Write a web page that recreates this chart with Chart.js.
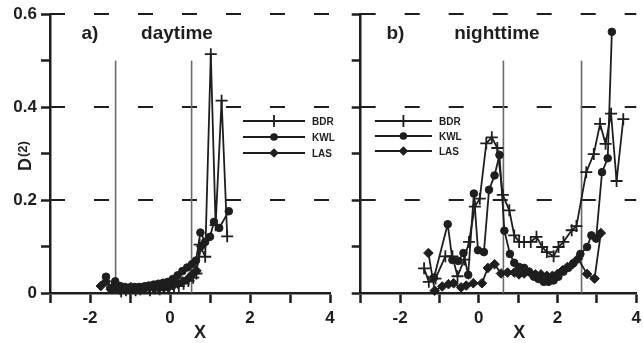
<!DOCTYPE html>
<html>
<head>
<meta charset="utf-8">
<script src="https://cdn.jsdelivr.net/npm/chart.js@4.4.1/dist/chart.umd.min.js"></script>
<style>
  body { margin: 0; background: #fff; width: 643px; height: 343px; position: relative; overflow: hidden; }
  canvas { position: absolute; top: 0; }
  #dayChart { left: 0; }
  #nightChart { left: 335px; }
</style>
</head>
<body>
<canvas id="dayChart" width="340" height="343"></canvas>
<canvas id="nightChart" width="311" height="343"></canvas>
<script>
// a) daytime
const dayBdrX = [-1.45, -1.33, -1.22, -1.1, -0.98, -0.86, -0.74, -0.62, -0.5, -0.38, -0.26, -0.14, -0.02, 0.1, 0.22, 0.34, 0.46, 0.58, 0.66, 0.74, 0.88, 1.02, 1.14, 1.29, 1.43];
const dayBdrY = [0.012, 0.02, 0.003, 0.006, 0.01, 0.006, 0.008, 0.01, 0.006, 0.01, 0.008, 0.012, 0.01, 0.015, 0.015, 0.02, 0.026, 0.033, 0.042, 0.104, 0.078, 0.514, 0.146, 0.414, 0.122];
const dayKwlX = [-1.6, -1.48, -1.37, -1.25, -1.13, -1.01, -0.89, -0.77, -0.65, -0.53, -0.41, -0.29, -0.17, -0.05, 0.07, 0.19, 0.31, 0.43, 0.55, 0.65, 0.76, 0.88, 1.0, 1.1, 1.23, 1.47];
const dayKwlY = [0.035, 0.01, 0.025, 0.015, 0.013, 0.012, 0.013, 0.013, 0.014, 0.016, 0.018, 0.02, 0.022, 0.024, 0.03, 0.038, 0.047, 0.055, 0.062, 0.07, 0.13, 0.11, 0.121, 0.153, 0.14, 0.176];
const dayLasX = [-1.73, -1.6, -1.48, -1.36, -1.24, -1.12, -1.0, -0.88, -0.76, -0.64, -0.52, -0.4, -0.28, -0.16, -0.04, 0.08, 0.2, 0.32, 0.44, 0.55, 0.66, 0.78];
const dayLasY = [0.015, 0.025, 0.008, 0.01, 0.006, 0.008, 0.007, 0.008, 0.01, 0.008, 0.012, 0.01, 0.01, 0.012, 0.012, 0.016, 0.02, 0.025, 0.03, 0.04, 0.048, 0.1];
const dayMarks = [-1.36, 0.54];

// b) nighttime
const nightBdrX = [-1.39, -1.27, -1.1, -0.85, -0.67, -0.54, -0.37, -0.25, -0.1, 0.025, 0.19, 0.33, 0.47, 0.61, 0.775, 0.9, 1.025, 1.15, 1.32, 1.465, 1.61, 1.73, 1.9, 2.025, 2.15, 2.36, 2.48, 2.73, 2.92, 3.08, 3.22, 3.36, 3.5, 3.67];
const nightBdrY = [0.053, 0.024, 0.031, 0.079, 0.079, 0.036, 0.072, 0.11, 0.186, 0.203, 0.322, 0.335, 0.312, 0.211, 0.178, 0.124, 0.11, 0.11, 0.11, 0.121, 0.099, 0.088, 0.079, 0.099, 0.11, 0.135, 0.144, 0.26, 0.299, 0.364, 0.321, 0.386, 0.241, 0.374];
const nightKwlX = [-1.14, -0.79, -0.67, -0.52, -0.39, -0.27, -0.125, -0.02, 0.13, 0.26, 0.4, 0.525, 0.65, 0.79, 0.9, 1.025, 1.15, 1.27, 1.4, 1.52, 1.65, 1.77, 1.9, 2.02, 2.15, 2.27, 2.4, 2.58, 2.75, 2.86, 2.98, 3.13, 3.275, 3.38];
const nightKwlY = [0.033, 0.148, 0.071, 0.069, 0.086, 0.039, 0.214, 0.092, 0.088, 0.222, 0.253, 0.297, 0.134, 0.084, 0.065, 0.056, 0.054, 0.046, 0.035, 0.03, 0.024, 0.024, 0.027, 0.035, 0.046, 0.054, 0.064, 0.084, 0.099, 0.124, 0.117, 0.26, 0.29, 0.562];
const nightLasX = [-1.28, -1.12, -0.93, -0.77, -0.64, -0.45, -0.32, -0.14, 0.08, 0.23, 0.4, 0.565, 0.73, 0.9, 1.02, 1.15, 1.3, 1.44, 1.58, 1.73, 1.87, 2.0, 2.13, 2.25, 2.38, 2.52, 2.75, 2.94, 3.1];
const nightLasY = [0.086, 0.005, 0.014, 0.019, 0.021, 0.012, 0.016, 0.021, 0.021, 0.054, 0.062, 0.042, 0.044, 0.044, 0.04, 0.042, 0.044, 0.04, 0.04, 0.037, 0.037, 0.041, 0.049, 0.056, 0.062, 0.074, 0.041, 0.031, 0.129];
const nightMarks = [0.625, 2.61];

const seriesNames = ['BDR', 'KWL', 'LAS'];
const gridLevels = [0.2, 0.4, 0.6];
const markTop = 0.5;

const ink = '#1e1e1e';
const styles = {
  BDR: { pointStyle: 'cross', radius: 6, borderWidth: 1.8 },
  KWL: { pointStyle: 'circle', radius: 3.8, borderWidth: 1 },
  LAS: { pointStyle: 'rectRot', radius: 4.8, borderWidth: 1 }
};

function pts(xs, ys) {
  return xs.map((x, i) => ({ x, y: ys[i] }));
}

function dataset(name, xs, ys) {
  const s = styles[name];
  return {
    label: name,
    data: pts(xs, ys),
    borderColor: ink,
    backgroundColor: ink,
    borderWidth: 1.8,
    pointStyle: s.pointStyle,
    pointRadius: s.radius,
    pointBorderWidth: s.borderWidth,
    pointBackgroundColor: ink,
    pointBorderColor: ink,
    tension: 0,
    clip: 8
  };
}

function drawMarker(ctx, style, x, y) {
  const s = styles[style];
  ctx.save();
  ctx.fillStyle = ink;
  ctx.strokeStyle = ink;
  ctx.beginPath();
  if (style === 'BDR') {
    ctx.lineWidth = s.borderWidth;
    ctx.moveTo(x - s.radius, y); ctx.lineTo(x + s.radius, y);
    ctx.moveTo(x, y - s.radius); ctx.lineTo(x, y + s.radius);
    ctx.stroke();
  } else if (style === 'KWL') {
    ctx.arc(x, y, s.radius, 0, Math.PI * 2);
    ctx.fill();
  } else {
    ctx.moveTo(x, y - s.radius); ctx.lineTo(x + s.radius, y);
    ctx.lineTo(x, y + s.radius); ctx.lineTo(x - s.radius, y);
    ctx.closePath();
    ctx.fill();
  }
  ctx.restore();
}

const overlay = {
  id: 'overlay',
  beforeDatasetsDraw(chart, args, o) {
    const { ctx, chartArea: a, scales: { x, y } } = chart;
    ctx.save();
    ctx.strokeStyle = ink;
    ctx.lineWidth = 2;
    ctx.setLineDash([15, 29]);
    gridLevels.forEach(v => {
      const py = Math.round(y.getPixelForValue(v));
      ctx.beginPath();
      ctx.moveTo(a.left, py);
      ctx.lineTo(a.right, py);
      ctx.stroke();
    });
    ctx.setLineDash([]);
    ctx.strokeStyle = '#6a6a6a';
    ctx.lineWidth = 1.6;
    o.marks.forEach(v => {
      const px = x.getPixelForValue(v);
      ctx.beginPath();
      ctx.moveTo(px, y.getPixelForValue(0));
      ctx.lineTo(px, y.getPixelForValue(markTop));
      ctx.stroke();
    });
    ctx.restore();
  },
  afterDraw(chart, args, o) {
    const { ctx, scales: { x, y } } = chart;
    ctx.save();
    ctx.fillStyle = ink;
    ctx.textBaseline = 'middle';
    ctx.textAlign = 'center';
    // panel titles
    ctx.font = 'bold 19px "Liberation Sans", Arial, sans-serif';
    ctx.fillText(o.tag, x.getPixelForValue(o.tagX), y.getPixelForValue(0.557));
    ctx.fillText(o.title, x.getPixelForValue(o.titleX), y.getPixelForValue(0.557));
    // x axis title
    ctx.font = 'bold 18px "Liberation Sans", Arial, sans-serif';
    ctx.fillText('X', x.getPixelForValue(o.xLabelAt), chart.height - 10);
    // legend
    ctx.font = 'bold 10px "Liberation Sans", Arial, sans-serif';
    ctx.textAlign = 'left';
    o.legendRows.forEach((py, i) => {
      const name = seriesNames[i];
      const x1 = x.getPixelForValue(o.legendX[0]);
      const x2 = x.getPixelForValue(o.legendX[1]);
      ctx.strokeStyle = ink;
      ctx.lineWidth = 1.8;
      ctx.beginPath();
      ctx.moveTo(x1, py);
      ctx.lineTo(x2, py);
      ctx.stroke();
      drawMarker(ctx, name, (x1 + x2) / 2, py);
      ctx.fillText(name, x2 + 7, py + 1);
    });
    // y axis title D(2)
    if (o.yTitle) {
      ctx.translate(26, 171);
      ctx.rotate(-Math.PI / 2);
      ctx.font = 'bold 18px "Liberation Sans", Arial, sans-serif';
      ctx.fillText('D', 0, 0);
      const w = ctx.measureText('D').width;
      ctx.font = 'bold 13px "Liberation Sans", Arial, sans-serif';
      ctx.fillText('(2)', w + 1, -3);
    }
    ctx.restore();
  }
};

function makePanel(id, sets, o) {
  return new Chart(document.getElementById(id), {
    type: 'line',
    data: { datasets: sets },
    plugins: [overlay],
    options: {
      responsive: false,
      animation: false,
      layout: { padding: { top: 13, right: o.padRight, left: 0, bottom: 0 } },
      plugins: {
        legend: { display: false },
        tooltip: { enabled: false },
        overlay: o
      },
      scales: {
        x: {
          type: 'linear',
          min: -3, max: 4,
          ticks: {
            stepSize: 1,
            color: ink,
            padding: 5,
            font: { family: '"Liberation Sans", Arial, sans-serif', size: 17, weight: 'bold' },
            callback: v => (Math.round(v) % 2 === 0 ? String(v) : '')
          },
          grid: { drawOnChartArea: false, tickLength: 10, tickColor: ink, tickWidth: 2.5 },
          border: { color: ink, width: 2.5 },
          afterFit: s => { s.height = 50; }
        },
        y: {
          min: 0, max: 0.6,
          ticks: {
            stepSize: 0.1,
            color: ink,
            padding: 4,
            font: { family: '"Liberation Sans", Arial, sans-serif', size: 17, weight: 'bold' },
            callback: v => (o.yTitle && Math.round(v * 10) % 2 === 0 ? (Math.round(v * 10) === 0 ? '0' : (Math.round(v * 10) / 10).toFixed(1)) : '')
          },
          grid: { drawOnChartArea: false, tickLength: 9, tickColor: ink, tickWidth: 2.5 },
          border: { color: ink, width: 2.5 },
          afterFit: s => { s.width = o.axisWidth; }
        }
      }
    }
  });
}

makePanel('dayChart', [
  dataset('BDR', dayBdrX, dayBdrY),
  dataset('KWL', dayKwlX, dayKwlY),
  dataset('LAS', dayLasX, dayLasY)
], {
  marks: dayMarks, tag: 'a)', tagX: -2.0, title: 'daytime', titleX: 0.175,
  xLabelAt: 0.75, legendX: [1.825, 3.375], legendRows: [121, 137, 153],
  yTitle: true, axisWidth: 50, padRight: 10
});

makePanel('nightChart', [
  dataset('BDR', nightBdrX, nightBdrY),
  dataset('KWL', nightKwlX, nightKwlY),
  dataset('LAS', nightLasX, nightLasY)
], {
  marks: nightMarks, tag: 'b)', tagX: -2.12, title: 'nighttime', titleX: 0.46,
  xLabelAt: 1.03, legendX: [-2.64, -1.19], legendRows: [121, 136, 151],
  yTitle: false, axisWidth: 25.7, padRight: 5.3
});
</script>
</body>
</html>
